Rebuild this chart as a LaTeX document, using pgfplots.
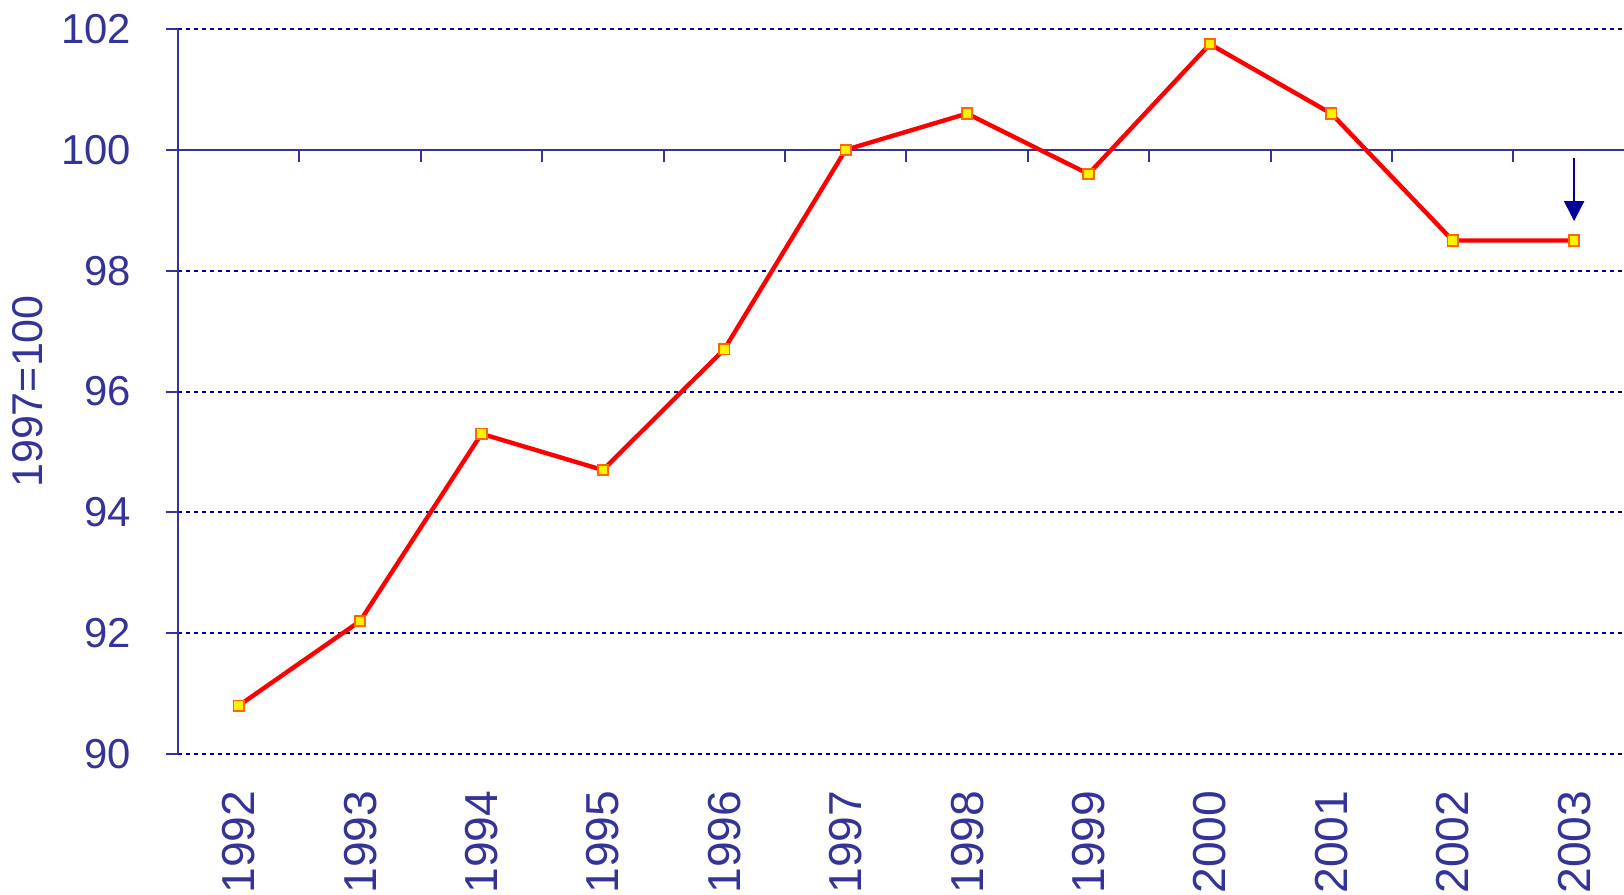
\documentclass[border=0pt]{standalone}
\usepackage{fontspec}
\setmainfont{Liberation Sans}
\usepackage{pgfplots}
\pgfplotsset{compat=1.18}
\usetikzlibrary{arrows.meta}
\definecolor{txtblue}{RGB}{51,51,153}
\definecolor{gridblue}{RGB}{0,0,153}
\definecolor{mkorange}{RGB}{255,102,0}

\begin{document}
\begin{tikzpicture}
\begin{axis}[
  scale only axis, width=364.2bp, height=181.25bp,
  xmin=-0.5, xmax=11.5, ymin=90, ymax=102,
  axis y line*=left, axis x line*=bottom,
  x axis line style={draw=none},
  y axis line style={color=txtblue, line width=0.5bp},
  xtick={0,...,11},
  xticklabels={1992,1993,1994,1995,1996,1997,1998,1999,2000,2001,2002,2003},
  xtick style={draw=none},
  xticklabel style={rotate=90, anchor=east, inner sep=0pt, font=\fontsize{11.6}{14}\selectfont, text=txtblue},
  xticklabel shift=9bp,
  ytick={90,92,94,96,98,102},
  extra y ticks={100},
  extra y tick style={grid style={solid, color=txtblue, line width=0.5bp}},
  ymajorgrids,
  grid style={gridblue, line width=0.5bp, dash pattern=on 1bp off 1bp},
  ytick align=outside, major tick length=3bp,
  ytick style={color=txtblue, line width=0.5bp},
  yticklabel style={inner sep=0pt, font=\fontsize{10.5}{12}\selectfont, text=txtblue},
  yticklabel shift=8.5bp,
  /pgf/number format/assume math mode=true,
  ylabel={1997=100},
  ylabel style={at={(axis description cs:-0.092,0.5)}, anchor=south, inner sep=0pt,
    font=\fontsize{10.8}{13}\selectfont, text=txtblue},
]
\addplot[red, line width=1.1bp, mark=square*, mark size=1.3bp,
  mark options={fill=yellow, draw=mkorange, line width=0.45bp}]
  coordinates {(0,90.8) (1,92.2) (2,95.3) (3,94.7) (4,96.7) (5,100.0)
    (6,100.6) (7,99.6) (8,101.75) (9,100.6) (10,98.5) (11,98.5)};
\pgfplotsinvokeforeach{0.5,1.5,...,10.5}{
  \draw[txtblue, line width=0.5bp] (axis cs:#1,100) -- ++(0pt,-3bp);
}
\draw[gridblue, line width=0.5bp, -{Triangle[length=5bp,width=5bp]}]
  (axis cs:11,99.87) -- (axis cs:11,98.82);
\end{axis}
\pgfresetboundingbox
\path[use as bounding box] (-44.5bp,-35.25bp) rectangle (361.5bp,188.5bp);
\end{tikzpicture}
\end{document}
